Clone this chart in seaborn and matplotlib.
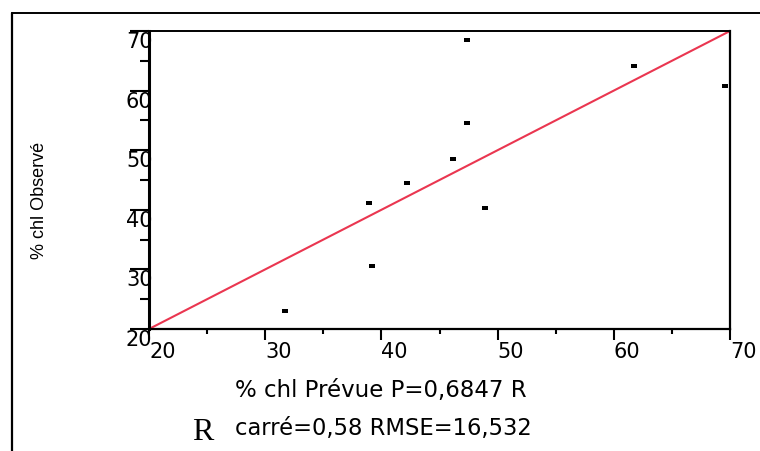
import matplotlib
matplotlib.use("Agg")
import matplotlib.pyplot as plt
from matplotlib.lines import Line2D
from matplotlib.ticker import MultipleLocator
import seaborn as sns
import pandas as pd

# values
chl_prevue = [31.7, 38.9, 39.2, 42.2, 46.2, 47.4, 47.4, 48.9, 61.7, 69.6]
chl_observe = [23.0, 41.1, 30.6, 44.5, 48.5, 54.6, 68.5, 40.3, 64.2, 60.8]
line_x = [20, 70]
line_y = [20, 70]
ticks = [20, 30, 40, 50, 60, 70]
tick_labels = ["20", "30", "40", "50", "60", "70"]

sns.set_style("white")
plt.rcParams["font.family"] = ["DejaVu Sans"]
plt.rcParams["text.color"] = "black"
plt.rcParams["xtick.color"] = "black"
plt.rcParams["ytick.color"] = "black"

df = pd.DataFrame({"prevue": chl_prevue, "observe": chl_observe})

fig = plt.figure(figsize=(7.6, 4.52), dpi=100)
ax = fig.add_axes([149 / 760, 1 - 330 / 452, (730 - 149) / 760, (330 - 32) / 452])

sns.lineplot(x=line_x, y=line_y, color="#ea3650", linewidth=1.5, ax=ax)
rect = [(-1.5, -1), (1.5, -1), (1.5, 1), (-1.5, 1), (-1.5, -1)]
sns.scatterplot(data=df, x="prevue", y="observe", marker=rect, s=20,
                color="black", linewidth=0, ax=ax, zorder=3)

ax.set_xlim(20, 70)
ax.set_ylim(20, 70)
ax.set_xlabel("")
ax.set_ylabel("")

for side, lw in [("left", 2.2), ("right", 1.6), ("top", 1.4), ("bottom", 1.6)]:
    ax.spines[side].set_visible(True)
    ax.spines[side].set_color("black")
    ax.spines[side].set_linewidth(lw)

ax.xaxis.set_minor_locator(MultipleLocator(5))
ax.yaxis.set_minor_locator(MultipleLocator(5))
ax.set_xticks(ticks)
ax.set_yticks(ticks)
ax.set_xticklabels(tick_labels, ha="left", fontsize=15)
ax.set_yticklabels(tick_labels, va="top", fontsize=15)

ax.tick_params(axis="x", which="major", direction="out", length=8, width=1.5,
               color="black", pad=1, bottom=True, top=False)
ax.tick_params(axis="x", which="minor", direction="out", length=3.8, width=1.5,
               color="black", bottom=True, top=False)
ax.tick_params(axis="y", which="major", direction="out", length=14, width=1.5,
               color="black", pad=-16.5, left=True, right=False)
ax.tick_params(axis="y", which="minor", direction="out", length=6.5, width=1.5,
               color="black", left=True, right=False)
for lab in ax.get_yticklabels():
    lab.set_zorder(0)

# outer frame (left and top only)
fig.add_artist(Line2D([12 / 760, 12 / 760], [0, 1 - 14 / 452],
                      transform=fig.transFigure, color="black", linewidth=1.6))
fig.add_artist(Line2D([12 / 760, 1], [1 - 14 / 452, 1 - 14 / 452],
                      transform=fig.transFigure, color="black", linewidth=1.4))

fig.text(40 / 760, 1 - 200 / 452, "% chl Observé", rotation=90, ha="center",
         va="center", fontsize=13, family=["Liberation Sans", "DejaVu Sans"])
fig.text(235 / 760, 1 - 397 / 452, "% chl Prévue P=0,6847 R", ha="left",
         va="baseline", fontsize=16.5)
fig.text(192 / 760, 1 - 440 / 452, "R", ha="left", va="baseline",
         fontsize=23, family=["Liberation Serif", "DejaVu Serif"])
fig.text(235 / 760, 1 - 435 / 452, "carré=0,58 RMSE=16,532", ha="left",
         va="baseline", fontsize=16.3)

fig.savefig("out.png", dpi=100)
